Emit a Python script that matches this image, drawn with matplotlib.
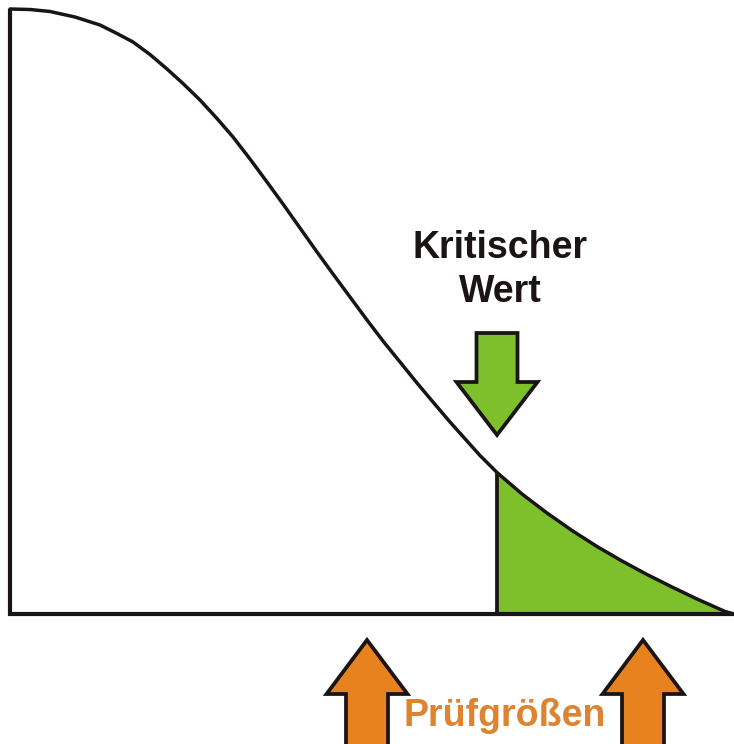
import matplotlib
matplotlib.use("Agg")
import matplotlib.pyplot as plt
from matplotlib.patches import Polygon
import numpy as np

# Curve points (x, density height) in pixel-like units
curve_x = [0, 20, 40, 65, 90, 107, 123, 140, 157, 173, 190, 207, 223, 240, 257,
           273, 290, 307, 323, 340, 357, 373, 390, 407, 423, 440, 457, 470, 487,
           512, 537, 562, 587, 612, 637, 662, 687, 705, 715, 724]
curve_y = [605, 604.5, 602.5, 597, 589, 580.5, 572, 559.5, 545, 530.5, 514, 495.5, 477, 455, 432,
           410, 386, 362, 340, 317, 294, 273, 252, 231, 212, 192, 173, 158.5, 141.5,
           120, 101, 83.5, 67.5, 53, 39.5, 27, 15, 7, 2.5, 0]

critical_x = 487
test_stats = [357, 633]

label_critical = ["Kritischer", "Wert"]
label_tests = "Prüfgrößen"

green = "#7DC02B"
orange = "#E8821E"
orange_text = "#DC8430"
ink = "#1a1414"

fig = plt.figure(figsize=(7.34, 7.44), dpi=100)
ax = fig.add_axes([0, 0, 1, 1])
ax.set_xlim(-10, 724)
ax.set_ylim(-130, 614)
ax.axis("off")

cx = np.array(curve_x, dtype=float)
cy = np.array(curve_y, dtype=float)

# green tail area
mask = cx > critical_x
yc = np.interp(critical_x, cx, cy)
fx = np.concatenate([[critical_x], cx[mask]])
fy = np.concatenate([[yc], cy[mask]])
ax.fill_between(fx, 0, fy, color=green, zorder=1, linewidth=0)
ax.plot([critical_x, critical_x], [0, yc], color=ink, lw=2.7, zorder=3,
        solid_capstyle="butt")

# curve
ax.plot(cx, cy, color=ink, lw=2.5, zorder=4, solid_capstyle="round",
        solid_joinstyle="round")

# axes lines
ax.plot([0, 0, 724], [605, 0, 0], color=ink, lw=3.0, zorder=5,
        solid_joinstyle="miter", solid_capstyle="butt")


def arrow(xc, tip_y, direction, color, shaft_half, head_half, head_len, shaft_end):
    hb = tip_y - direction * head_len
    pts = [(xc - shaft_half, shaft_end), (xc + shaft_half, shaft_end),
           (xc + shaft_half, hb), (xc + head_half, hb), (xc, tip_y),
           (xc - head_half, hb), (xc - shaft_half, hb)]
    p = Polygon(pts, closed=True, facecolor=color, edgecolor=ink,
                lw=2.7, joinstyle="miter", zorder=6)
    ax.add_patch(p)


arrow(critical_x, 179, -1, green, shaft_half=20.5, head_half=40.5,
      head_len=53, shaft_end=281)
for t in test_stats:
    arrow(t, -26, +1, orange, shaft_half=21, head_half=40.5,
          head_len=54, shaft_end=-135)

ax.text(490, 356, label_critical[0], ha="center", va="baseline",
        fontsize=27, fontweight="bold", family="Liberation Sans",
        color=ink, zorder=7)
ax.text(490, 312, label_critical[1], ha="center", va="baseline",
        fontsize=27, fontweight="bold", family="Liberation Sans",
        color=ink, zorder=7)
ax.text(495, -112, label_tests, ha="center", va="baseline",
        fontsize=27, fontweight="bold", family="Liberation Sans",
        color=orange_text, zorder=7)

fig.savefig("out.png", dpi=100, facecolor="white")
